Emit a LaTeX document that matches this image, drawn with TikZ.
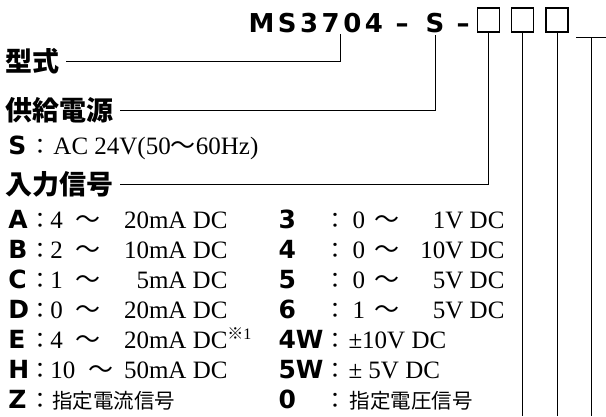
\documentclass[tikz,border=0pt]{standalone}
\usepackage{fontspec}
\setmainfont{Liberation Serif}
\setsansfont{DejaVu Sans}
\newfontfamily\cjk{Noto Sans CJK JP}
\usetikzlibrary{positioning}

\newcommand{\lbl}[1]{{\sffamily\bfseries\fontsize{25}{25}\selectfont #1}}
\newcommand{\wave}{{\cjk\fontsize{25}{25}\selectfont 〜}}
\newcommand{\fwcolon}{\makebox[19pt][c]{\cjk\fontsize{22}{22}\selectfont ：}}
\newcommand{\jtext}[1]{{\cjk\fontsize{20.5}{21}\selectfont #1}}
\newcommand{\sigleft}[3]{\hbox to 219pt{\makebox[23pt][l]{\lbl{#1}}\fwcolon #2\hspace{13pt}\wave\hfill #3}}
\newcommand{\sigright}[3]{\hbox to 226pt{\makebox[47pt][l]{\lbl{#1}}\fwcolon\hspace{8pt}#2\hspace{9pt}\wave\hfill #3}}

\begin{document}
\begin{tikzpicture}[x=1pt, y=-1pt, line width=1pt,
    head/.style={inner sep=0pt, anchor=west, font=\cjk\bfseries\fontsize{27}{27}\selectfont},
    sig/.style={inner sep=0pt, anchor=base west, font=\fontsize{25}{30}\selectfont},
    title/.style={inner sep=0pt, anchor=base, font=\sffamily\bfseries\fontsize{26}{26}\selectfont},
    field/.style={draw, line width=1.6pt, minimum width=22pt, minimum height=24pt, inner sep=0pt}]
    \useasboundingbox (0,0) rectangle (606,416);
    % Model code
    \node[title, anchor=base west] (model) at (248,32) {M\kern3.5pt S\kern3.5pt 3\kern3.5pt 7\kern3.5pt 0\kern3.5pt 4};
    \node[title] (dasha) at (402,32) {\textendash};
    \node[title] (supply) at (435,32) {S};
    \node[title] (dashb) at (463,32) {\textendash};
    \node[field] (code1) at (488.5,20) {};
    \node[field] (code2) at (522.5,20) {};
    \node[field] (code3) at (557,20) {};
    \coordinate (seven) at (340,34);
    \coordinate (tleft) at (576,37);
    \coordinate (tright) at (606,37);
    \coordinate (tnext) at (591,37);
    \coordinate (bottom) at (0,416);
    % Headings
    \node[head] (model-h) at (5,61) {型式};
    \node[head] (supply-h) at (5,110) {供給電源};
    \node[head] (input-h) at (5,184) {入力信号};
    % Supply
    \node[sig] (acrow) at (8,154) {\hbox{\makebox[23pt][l]{\lbl{S}}\fwcolon\hspace{3pt}AC 24V(50\wave 60Hz)}};
    % Input signals
    \node[sig] (sigA) at (8,228) {\sigleft{A}{4}{20mA DC}};
    \node[sig] (sigB) at (8,258) {\sigleft{B}{2}{10mA DC}};
    \node[sig] (sigC) at (8,288) {\sigleft{C}{1}{5mA DC}};
    \node[sig] (sigD) at (8,318) {\sigleft{D}{0}{20mA DC}};
    \node[sig] (sigE) at (8,348) {\sigleft{E}{4}{20mA DC\rlap{\raisebox{9pt}{\fontsize{16}{16}\selectfont\cjk\bfseries ※\rmfamily\mdseries 1}}}};
    \node[sig] (sigH) at (8,378) {\sigleft{H}{10}{50mA DC}};
    \node[sig] (sigZ) at (8,408) {\hbox to 219pt{\makebox[23pt][l]{\lbl{Z}}\fwcolon\hspace{2pt}\jtext{指定電流信号}\hfill}};
    \node[sig, right=50pt of sigA.base east, anchor=base west] (sig3) {\sigright{3}{0}{1V DC}};
    \node[sig, right=50pt of sigB.base east, anchor=base west] (sig4) {\sigright{4}{0}{10V DC}};
    \node[sig, right=50pt of sigC.base east, anchor=base west] (sig5) {\sigright{5}{0}{5V DC}};
    \node[sig, right=50pt of sigD.base east, anchor=base west] (sig6) {\sigright{6}{1}{5V DC}};
    \node[sig, right=50pt of sigE.base east, anchor=base west] (sig4w) {\hbox to 226pt{\makebox[47pt][l]{\lbl{4W}}\fwcolon\hspace{4pt}±10V DC\hfill}};
    \node[sig, right=50pt of sigH.base east, anchor=base west] (sig5w) {\hbox to 226pt{\makebox[47pt][l]{\lbl{5W}}\fwcolon\hspace{4pt}± 5V DC\hfill}};
    \node[sig, right=50pt of sigZ.base east, anchor=base west] (sig0) {\hbox to 226pt{\makebox[47pt][l]{\lbl{0}}\fwcolon\hspace{5pt}\jtext{指定電圧信号}\hfill}};
    % Leader lines
    \draw ([xshift=6pt]model-h.east) -| (seven);
    \draw ([xshift=6pt]supply-h.east) -| ([yshift=-2pt]supply.south);
    \draw ([xshift=6pt]input-h.east) -| (code1.south);
    \draw (code2.south) -- (code2.south |- bottom);
    \draw (code3.south) -- (code3.south |- bottom);
    \draw (tleft) -- (tright);
    \draw (tnext) -- (tnext |- bottom);
\end{tikzpicture}
\end{document}
